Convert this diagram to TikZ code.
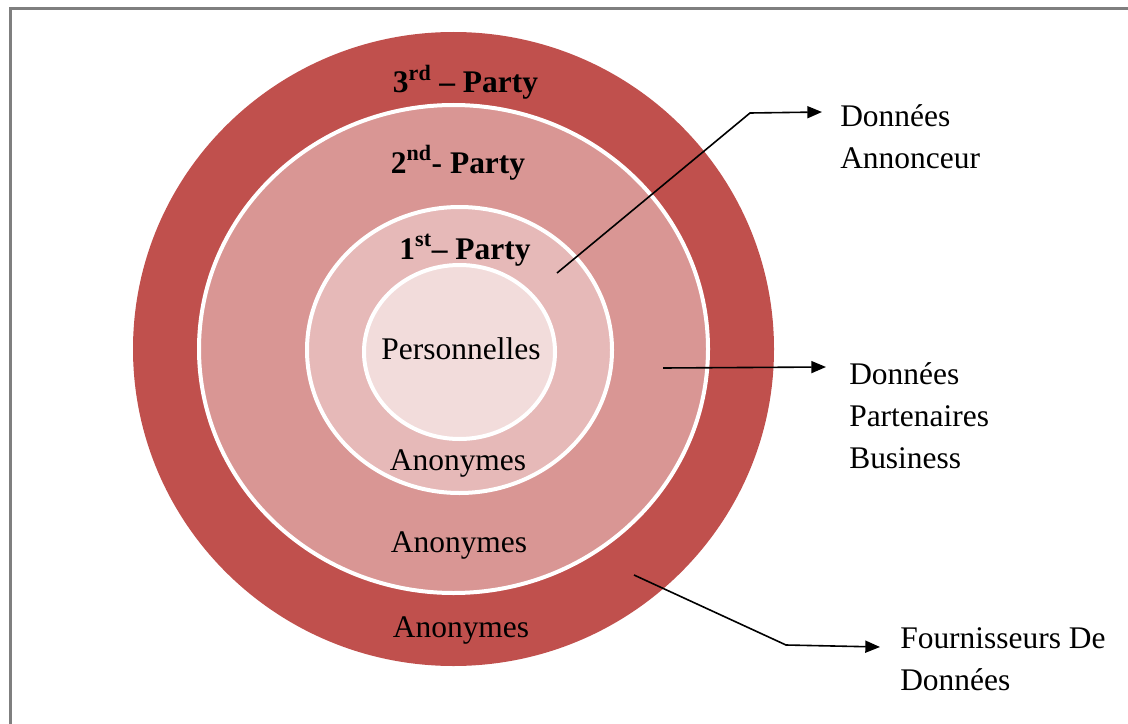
\documentclass[tikz,border=0pt]{standalone}
\usepackage{fontspec}
\setmainfont{Liberation Serif}
\usetikzlibrary{arrows.meta}
\definecolor{ringthird}{HTML}{C0504D}
\definecolor{ringsecond}{HTML}{D99694}
\definecolor{ringfirst}{HTML}{E6B9B8}
\definecolor{ringcore}{HTML}{F2DCDB}
\definecolor{framegray}{HTML}{7F7F7F}
\begin{document}
\begin{tikzpicture}[x=0.75pt,y=-0.75pt,
  lab/.style={font=\fontsize{23.6}{31.5}\selectfont, inner sep=0pt, anchor=base},
  boldlab/.style={lab, font=\fontsize{23.6}{31.5}\selectfont\bfseries},
  sidelab/.style={lab, anchor=base west, align=left},
  ringedge/.style={draw=white, line width=3pt},
  conn/.style={line width=1.2pt, -{Triangle[length=11pt,width=9pt]}}]
\useasboundingbox (0,0) rectangle (1128,724);
% page frame
\draw[framegray, line width=1.6pt] (10.5,724) -- (10.5,8.5) -- (1128,8.5);

% concentric rings
\coordinate (cthird) at (453.5,349);
\coordinate (csecond) at (453.5,349);
\coordinate (cfirst) at (459.5,350);
\coordinate (ccore) at (459.5,352);
\fill[ringthird] (cthird) ellipse [x radius=320.5, y radius=317];
\filldraw[fill=ringsecond, ringedge] (csecond) ellipse [x radius=254.5, y radius=244];
\filldraw[fill=ringfirst, ringedge] (cfirst) ellipse [x radius=152.5, y radius=143];
\filldraw[fill=ringcore, ringedge] (ccore) ellipse [x radius=95.5, y radius=87];

% ring labels
\node[boldlab] (third) at (465.5,93) {3\textsuperscript{rd} -- Party};
\node[boldlab] (second) at (458,173) {2\textsuperscript{nd}- Party};
\node[boldlab] (first) at (465,259) {1\textsuperscript{st}-- Party};
\node[lab] (perso) at (461,359) {Personnelles};
\node[lab] (anonA) at (458,470) {Anonymes};
\node[lab] (anonB) at (459,552) {Anonymes};
\node[lab] (anonC) at (461,637) {Anonymes};

% side labels (base anchor sits on the last line)
\node[sidelab] (annonceur) at (840,168) {Données\\Annonceur};
\node[sidelab] (partenaires) at (849,468) {Données\\Partenaires\\Business};
\node[sidelab] (fournisseurs) at (900,690) {Fournisseurs De\\Données};

% connectors
\coordinate (pfirst) at (557,273);
\coordinate (kfirst) at (750,113);
\coordinate (tfirst) at (822,112);
\coordinate (psecond) at (663,368);
\coordinate (tsecond) at (826,367);
\coordinate (pthird) at (634,575);
\coordinate (kthird) at (786,645);
\coordinate (tthird) at (880,647);
\draw[conn] (pfirst) -- (kfirst) -- (tfirst);
\draw[conn] (psecond) -- (tsecond);
\draw[conn] (pthird) -- (kthird) -- (tthird);
\end{tikzpicture}
\end{document}
